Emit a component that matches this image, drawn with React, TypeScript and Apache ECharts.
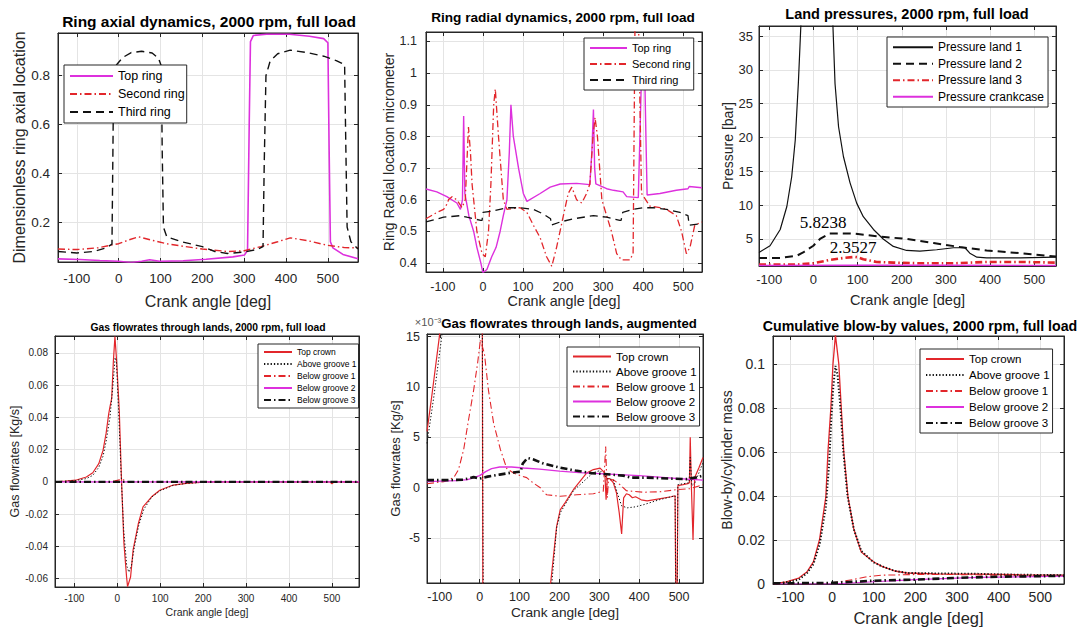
import React, { useEffect, useRef } from "react";
import * as echarts from "echarts";

const FONT = "'Liberation Sans', Arial, Helvetica, sans-serif";
const SERIF = "'Liberation Serif', 'Times New Roman', serif";
const AX = "#262626";
const GRIDC = "#e4e4e4";
const RED = "#e2262b";
const MAG = "#dd30dd";
const BLK = "#111111";
const DASH = [8, 5];
const DOT = [1.3, 2];
const DASHDOT = [7, 3, 1.5, 3];

// ---------- Panel 1: Ring axial dynamics ----------
const axialTopRing = [[-145,0.05],[-93,0.047],[-45,0.043],[0,0.04],[30,0.035],[55,0.04],[74,0.046],[98,0.04],[154,0.042],[209,0.048],[273,0.058],[301,0.066],[308,0.085],[312,0.6],[315,0.94],[322,0.965],[353,0.97],[408,0.97],[456,0.962],[490,0.952],[500,0.935],[503,0.5],[506,0.12],[512,0.095],[536,0.068],[572,0.05]];
const axialSecondRing = [[-145,0.09],[-100,0.088],[-50,0.095],[0,0.112],[25,0.128],[48,0.14],[80,0.126],[120,0.11],[200,0.09],[260,0.08],[300,0.083],[340,0.1],[380,0.12],[410,0.136],[450,0.125],[500,0.105],[540,0.096],[572,0.095]];
const axialThirdRing = [[-145,0.08],[-100,0.074],[-60,0.08],[-30,0.095],[-16,0.11],[-14,0.45],[-12,0.8],[-5,0.845],[10,0.875],[30,0.895],[55,0.9],[80,0.893],[95,0.872],[102,0.84],[104,0.5],[107,0.18],[115,0.14],[150,0.12],[200,0.1],[230,0.08],[260,0.072],[300,0.078],[330,0.088],[345,0.1],[348,0.45],[352,0.8],[362,0.86],[380,0.89],[410,0.905],[450,0.895],[490,0.88],[520,0.862],[540,0.845],[543,0.5],[546,0.18],[555,0.12],[572,0.09]];

// ---------- Panel 2: Ring radial dynamics ----------
const radialTopRing = [[-142,0.634],[-115,0.625],[-90,0.61],[-65,0.59],[-56,0.57],[-51,0.6],[-48,0.865],[-45,0.62],[-42,0.6],[-35,0.55],[-23,0.5],[-15,0.45],[-5,0.4],[0,0.37],[10,0.38],[22,0.42],[33,0.45],[43,0.5],[51,0.55],[60,0.6],[66,0.75],[70,0.9],[76,0.8],[89,0.7],[101,0.62],[110,0.595],[143,0.62],[168,0.64],[193,0.65],[234,0.652],[267,0.648],[272,0.75],[276,0.885],[279,0.7],[282,0.65],[309,0.635],[326,0.63],[350,0.625],[359,0.61],[388,0.607],[392,0.8],[396,1.0],[404,1.0],[407,0.8],[410,0.615],[442,0.62],[483,0.63],[512,0.635],[515,0.642],[547,0.638]];
const radialSecondRing = [[-142,0.54],[-115,0.56],[-98,0.57],[-88,0.59],[-86,0.6],[-77,0.61],[-65,0.6],[-52,0.575],[-44,0.6],[-36,0.83],[-31,0.75],[-27,0.65],[-15,0.5],[-2,0.43],[6,0.42],[14,0.5],[20,0.65],[27,0.9],[31,0.95],[39,0.8],[51,0.6],[60,0.57],[93,0.575],[110,0.56],[126,0.52],[143,0.48],[159,0.42],[172,0.39],[184,0.45],[201,0.55],[213,0.62],[222,0.64],[234,0.6],[247,0.59],[259,0.62],[267,0.65],[275,0.8],[280,0.86],[286,0.8],[297,0.6],[309,0.55],[321,0.5],[334,0.43],[346,0.41],[367,0.41],[375,0.43],[380,1.2],[388,1.2],[396,0.62],[417,0.58],[442,0.575],[458,0.57],[483,0.55],[496,0.5],[508,0.43],[517,0.45],[529,0.52],[547,0.53]];
const radialThirdRing = [[-142,0.53],[-98,0.545],[-56,0.55],[-40,0.545],[-23,0.54],[-5,0.535],[-2,0.535],[0,0.56],[27,0.565],[60,0.575],[93,0.575],[126,0.57],[151,0.555],[169,0.54],[171,0.52],[193,0.53],[226,0.54],[276,0.55],[309,0.545],[342,0.535],[345,0.535],[349,0.56],[375,0.57],[400,0.575],[425,0.575],[458,0.57],[492,0.56],[512,0.55],[515,0.52],[547,0.525]];

// ---------- Panel 3: Land pressures ----------
const pressLand1 = [[-123,3.0],[-98,4.0],[-75,6.4],[-60,9.8],[-49,14.2],[-41,19.6],[-34,28],[-26,40],[-15,55],[0,62],[20,58],[35,45],[44,37],[49,28],[57,21.6],[68,17.2],[83,13.3],[98,10.3],[113,8.3],[136,6.4],[158,5.0],[181,3.9],[211,3.3],[241,3.2],[279,3.4],[317,3.7],[343,3.7],[354,2.9],[370,2.3],[392,2.2],[468,2.2],[549,2.3]];
const pressLand2 = [[-123,2.2],[-75,2.2],[-38,2.5],[-23,3.0],[0,4.0],[15,5.0],[37,5.8],[60,5.82],[90,5.8],[143,5.4],[211,5.0],[272,4.4],[332,3.8],[392,3.3],[468,2.9],[549,2.4]];
const pressLand3 = [[-123,1.2],[-40,1.2],[0,1.4],[37,1.9],[70,2.2],[94,2.35],[100,2.3],[113,2.0],[143,1.6],[181,1.5],[241,1.4],[317,1.4],[392,1.6],[468,1.6],[549,1.5]];
const pressCrankcase = [[-123,1.08],[100,1.1],[300,1.1],[549,1.08]];
const pressNotes = [{ label: "5.8238", x: 823, y: 222 }, { label: "2.3527", x: 853, y: 247 }];

// ---------- Panel 4: Gas flowrates [kg/s] ----------
const flowTopCrown = [[-145,0],[-120,0.0004],[-97,0.001],[-72,0.003],[-57,0.0056],[-43,0.0113],[-33,0.0196],[-26,0.03],[-20,0.042],[-17,0.0465],[-13,0.0517],[-9,0.075],[-5.4,0.09],[-1.5,0.075],[4.7,0.044],[10,0],[15.5,-0.038],[21.7,-0.059],[24,-0.065],[31,-0.059],[37,-0.042],[49,-0.026],[60,-0.0155],[80,-0.0093],[99,-0.0052],[130,-0.002],[161,-0.001],[192,-0.0004],[208,0],[495,0],[500,-0.0012],[505,0],[563,0]];
const flowAboveG1 = [[-145,0],[-97,0.0008],[-72,0.002],[-57,0.004],[-43,0.009],[-33,0.016],[-26,0.025],[-17,0.04],[-10,0.06],[-5,0.077],[-2,0.075],[3,0.045],[9,0.005],[15,-0.03],[22,-0.052],[27,-0.056],[33,-0.052],[40,-0.04],[50,-0.027],[62,-0.017],[80,-0.0095],[100,-0.0055],[130,-0.0022],[160,-0.001],[200,-0.0003],[230,0],[563,0]];
const flowBelowG1 = [[-145,0],[-20,0],[-5,0.0006],[5,0.0012],[15,0.0012],[22,0.0002],[40,0],[495,0],[500,-0.0006],[505,0],[563,0]];
const flowBelowG2 = [[-145,0],[563,0]];
const flowBelowG3 = [[-145,0],[563,0]];

// ---------- Panel 5: Gas flowrates augmented [x1e-3 kg/s] ----------
const augTopCrown = [[-132,5.6],[-119,9.4],[-101,15],[-90,20],[-60,40],[-30,60],[-5,90],[6,30],[7.5,0],[9,-30],[20,-65],[60,-30],[120,-15],[160,-11],[178,-9.46],[193,-3.84],[202,-2.2],[214,-1.5],[235,-0.2],[268,1.45],[285,1.8],[302,1.95],[314,1.45],[317,-1.2],[320,0.9],[326,0.9],[335,0.5],[343,-0.5],[350,-2.5],[356,-4.6],[361,-1.0],[368,-0.6],[375,-0.7],[383,-1.0],[391,-0.9],[405,-1.2],[420,-1.3],[435,-1.2],[450,-1.1],[480,-0.9],[490,-0.8],[492,-12],[495,-12],[497,0.2],[510,0.3],[522,0.4],[526,0.5],[528,5.0],[531,0],[535,-5.2],[539,1.0],[550,2.0],[560,3.0]];
const augAboveG1 = [[-132,4.4],[-115,9],[-95,15],[-85,20],[-50,40],[-20,60],[-5,78],[6.5,20],[8,0],[10,-20],[25,-56],[100,-20],[181,-9.46],[193,-4],[202,-2.5],[235,-0.3],[285,1.5],[302,1.7],[314,1.2],[320,0.9],[335,0.8],[345,-0.5],[356,-1.8],[370,-2.0],[390,-1.9],[410,-1.7],[450,-1.2],[490,-0.8],[492,-12],[495,-12],[497,0.3],[525,0.5],[528,3.0],[532,0.2],[540,0.5],[560,2.5]];
const augBelowG1 = [[-132,0.4],[-90,0.6],[-65,1.0],[-53,1.8],[-40,3.8],[-28,6.7],[-15,9.7],[-5,12.4],[2,14.7],[12,13.3],[22,9.7],[35,6.4],[52,3.8],[68,1.9],[85,1.45],[102,1.2],[118,1.0],[135,0.45],[152,0],[160,-0.4],[168,-0.7],[202,-0.85],[243,-0.7],[285,-0.6],[310,-0.35],[316,4.1],[320,-1.0],[323,0.7],[335,0.8],[352,0.3],[368,-0.3],[410,-0.45],[452,-0.4],[493,-0.2],[527,-0.1],[535,0],[560,0.3]];
const augBelowG2 = [[-132,0.6],[-60,0.7],[-30,0.8],[0,1.2],[15,1.6],[30,1.9],[50,2.05],[80,2.05],[110,1.95],[150,1.85],[200,1.65],[250,1.5],[300,1.4],[350,1.3],[400,1.2],[450,1.05],[500,0.9],[540,0.8],[560,0.75]];
const augBelowG3 = [[-132,0.75],[-80,0.75],[-40,0.8],[-15,1.05],[0,0.9],[20,1.1],[50,1.3],[80,1.5],[103,1.6],[108,2.4],[120,2.95],[135,2.8],[160,2.4],[200,2.0],[240,1.7],[280,1.45],[330,1.3],[360,1.2],[380,1.0],[420,1.0],[480,0.9],[520,0.85],[540,1.0],[560,1.2]];

// ---------- Panel 6: Cumulative blow-by ----------
const cumTopCrown = [[-142,0],[-110,0.001],[-80,0.0027],[-60,0.0056],[-45,0.01],[-30,0.0204],[-15,0.0397],[-10,0.06],[-3,0.08],[2,0.0997],[8,0.113],[16,0.1],[22,0.08],[28,0.06],[38,0.0397],[52,0.025],[70,0.0145],[100,0.01],[120,0.008],[150,0.0059],[180,0.005],[250,0.0046],[350,0.0045],[450,0.0042],[557,0.004]];
const cumAboveG1 = [[-142,0],[-110,0.0008],[-80,0.002],[-60,0.005],[-45,0.009],[-30,0.018],[-15,0.035],[-7,0.055],[-2,0.075],[3,0.09],[8,0.099],[13,0.095],[20,0.08],[27,0.06],[37,0.04],[52,0.025],[70,0.015],[100,0.0098],[120,0.008],[150,0.006],[180,0.005],[250,0.0048],[350,0.0046],[450,0.0042],[557,0.004]];
const cumBelowG1 = [[-142,0],[-50,0],[0,0.0005],[50,0.002],[80,0.0032],[120,0.004],[200,0.0043],[300,0.0043],[400,0.004],[557,0.0038]];
const cumBelowG2 = [[-142,0],[0,0],[100,0.001],[200,0.002],[350,0.003],[557,0.0035]];
const cumBelowG3 = [[-142,0.0003],[0,0.0005],[50,0.001],[100,0.0015],[200,0.002],[300,0.0028],[400,0.0033],[557,0.0037]];

const ringNames = ["Top ring", "Second ring", "Third ring"];
const pressNames = ["Pressure land 1", "Pressure land 2", "Pressure land 3", "Pressure crankcase"];
const flowNames = ["Top crown", "Above groove 1", "Below groove 1", "Below groove 2", "Below groove 3"];
const titles = [
  "Ring axial dynamics, 2000 rpm, full load",
  "Ring radial dynamics, 2000 rpm, full load",
  "Land pressures, 2000 rpm, full load",
  "Gas flowrates through lands, 2000 rpm, full load",
  "Gas flowrates through lands, augmented",
  "Cumulative blow-by values, 2000 rpm, full load",
];
const yNames = [
  "Dimensionless ring axial location",
  "Ring Radial location micrometer",
  "Pressure [bar]",
  "Gas flowrates [Kg/s]",
  "Gas flowrates [Kg/s]",
  "Blow-by/cylinder mass",
];

// axis extents per panel: [xmin, xmax, ymin, ymax, ystep]
const ranges = [
  [-145, 572, 0.037, 0.975, 0.2],
  [-142, 547, 0.372, 1.13, 0.1],
  [-123, 549, 1.0, 36.5, 5],
  [-145, 563, -0.0652, 0.0904, 0.02],
  [-132, 560, -9.46, 15.26, 5],
  [-142, 557, 0, 0.1126, 0.02],
];

function ser(name: string, data: number[][], gi: number, color: string, width: number, type: any) {
  return {
    type: "line", name, data, xAxisIndex: gi, yAxisIndex: gi,
    symbol: "none", showSymbol: false, color,
    lineStyle: { color, width, type }, itemStyle: { color },
    clip: true, silent: true,
  };
}

function xAx(gi: number, fs: number, margin: number, nfs: number, gap: number) {
  const [min, max] = ranges[gi];
  return {
    type: "value", gridIndex: gi, min, max, minInterval: 100, maxInterval: 100, splitNumber: 7,
    name: "Crank angle [deg]", nameLocation: "middle", nameGap: gap,
    nameTextStyle: { fontSize: nfs, fontFamily: FONT, color: AX },
    axisLine: { show: true, onZero: false, lineStyle: { color: AX, width: 1 } },
    axisTick: { show: true, inside: true, length: 4, lineStyle: { color: AX } },
    axisLabel: { fontSize: fs, fontFamily: FONT, color: AX, margin, showMinLabel: false, showMaxLabel: false },
    splitLine: { show: true, lineStyle: { color: GRIDC, width: 1 } },
  };
}

function yAx(gi: number, fs: number, margin: number, nfs: number, gap: number, showMin = false) {
  const [, , min, max, step] = ranges[gi];
  return {
    type: "value", gridIndex: gi, min, max, minInterval: step, maxInterval: step, splitNumber: 6,
    name: yNames[gi], nameLocation: "middle", nameGap: gap, nameRotate: 90,
    nameTextStyle: { fontSize: nfs, fontFamily: FONT, color: AX },
    axisLine: { show: true, onZero: false, lineStyle: { color: AX, width: 1 } },
    axisTick: { show: true, inside: true, length: 4, lineStyle: { color: AX } },
    axisLabel: { fontSize: fs, fontFamily: FONT, color: AX, margin, showMinLabel: showMin, showMaxLabel: false },
    splitLine: { show: true, lineStyle: { color: GRIDC, width: 1 } },
  };
}

// mirror axes (top / right) carrying only inward ticks, like a boxed plot
function xMirror(gi: number) {
  const [min, max] = ranges[gi];
  return {
    type: "value", gridIndex: gi, position: "top", min, max, minInterval: 100, maxInterval: 100, splitNumber: 7,
    axisLine: { show: true, onZero: false, lineStyle: { color: AX, width: 1 } },
    axisTick: { show: true, inside: true, length: 4, lineStyle: { color: AX } },
    axisLabel: { show: false }, splitLine: { show: false },
  };
}
function yMirror(gi: number) {
  const [, , min, max, step] = ranges[gi];
  return {
    type: "value", gridIndex: gi, position: "right", min, max, minInterval: step, maxInterval: step, splitNumber: 6,
    axisLine: { show: true, onZero: false, lineStyle: { color: AX, width: 1 } },
    axisTick: { show: true, inside: true, length: 4, lineStyle: { color: AX } },
    axisLabel: { show: false }, splitLine: { show: false },
  };
}

function leg(names: string[], left: number, top: number, fs: number, itemW: number, row: number, padR = 4) {
  return {
    data: names, orient: "vertical", left, top, itemWidth: itemW, itemHeight: row, itemGap: 0,
    padding: [2, padR, 2, 5], borderColor: AX, borderWidth: 1, backgroundColor: "#ffffff",
    textStyle: { fontSize: fs, fontFamily: FONT, color: "#000", lineHeight: row },
    itemStyle: { opacity: 0 }, selectedMode: false, z: 10,
  };
}

function txt(text: string, x: number, y: number, font: string, fill = "#000") {
  return { type: "text", x, y, z: 100, style: { text, font, fill, textAlign: "center", textVerticalAlign: "middle" } };
}

export default function App() {
  const ref = useRef<HTMLDivElement>(null);
  useEffect(() => {
    if (!ref.current) return;
    const chart = echarts.init(ref.current, null, { renderer: "svg" });
    const grids = [
      { left: 58, top: 33, width: 300, height: 229 },
      { left: 426, top: 32, width: 276, height: 240 },
      { left: 759, top: 26, width: 297, height: 240 },
      { left: 55, top: 336, width: 304, height: 251 },
      { left: 427, top: 334, width: 276, height: 249 },
      { left: 773, top: 336, width: 291, height: 253 },
    ].map((g) => ({ ...g, show: true, borderColor: AX, borderWidth: 1, backgroundColor: "#fff", containLabel: false }));

    const option: any = {
      animation: false,
      backgroundColor: "#ffffff",
      grid: grids,
      xAxis: [
        xAx(0, 13.5, 9, 16, 31),
        xAx(1, 12.5, 8, 14.3, 22),
        xAx(2, 13, 7, 14.6, 26),
        xAx(3, 10, 6, 10.5, 19),
        xAx(4, 12.5, 7, 13.7, 22),
        xAx(5, 14, 6, 16.5, 25),
        ...[0, 1, 2, 3, 4, 5].map(xMirror),
      ],
      yAxis: [
        yAx(0, 13.5, 8, 16, 30),
        yAx(1, 12.5, 9, 14, 27),
        yAx(2, 13, 6, 14, 24),
        yAx(3, 10, 7, 12.5, 29),
        yAx(4, 12.5, 7, 13, 24),
        yAx(5, 14, 8, 14, 36, true),
        ...[0, 1, 2, 3, 4, 5].map(yMirror),
      ],
      legend: [
        leg(ringNames, 64, 65, 12.5, 43, 18, 2),
        leg(ringNames, 584, 38, 11, 37, 16, 3),
        leg(pressNames, 887, 37, 12, 40, 16.5, 4),
        leg(flowNames, 258, 344, 8.5, 28, 12, 2),
        leg(flowNames, 567, 347, 11.5, 38, 15, 3),
        leg(flowNames, 920, 349, 11.5, 38, 16, 3),
      ],
      series: [
        ser("Top ring", axialTopRing, 0, MAG, 1.6, "solid"),
        ser("Second ring", axialSecondRing, 0, RED, 1.4, DASHDOT),
        ser("Third ring", axialThirdRing, 0, BLK, 1.4, DASH),

        ser("Top ring", radialTopRing, 1, MAG, 1.4, "solid"),
        ser("Second ring", radialSecondRing, 1, RED, 1.3, DASHDOT),
        ser("Third ring", radialThirdRing, 1, BLK, 1.3, DASH),

        ser("Pressure land 1", pressLand1, 2, BLK, 1.2, "solid"),
        ser("Pressure land 2", pressLand2, 2, BLK, 2, DASH),
        ser("Pressure land 3", pressLand3, 2, RED, 2.6, DASHDOT),
        ser("Pressure crankcase", pressCrankcase, 2, MAG, 1.4, "solid"),

        ser("Top crown", flowTopCrown, 3, RED, 1.2, "solid"),
        ser("Above groove 1", flowAboveG1, 3, BLK, 1, DOT),
        ser("Below groove 1", flowBelowG1, 3, RED, 1.1, DASHDOT),
        ser("Below groove 2", flowBelowG2, 3, MAG, 1.1, "solid"),
        ser("Below groove 3", flowBelowG3, 3, BLK, 2.4, DASHDOT),

        ser("Top crown", augTopCrown, 4, RED, 1.2, "solid"),
        ser("Above groove 1", augAboveG1, 4, BLK, 1, DOT),
        ser("Below groove 1", augBelowG1, 4, RED, 1.1, DASHDOT),
        ser("Below groove 2", augBelowG2, 4, MAG, 1.4, "solid"),
        ser("Below groove 3", augBelowG3, 4, BLK, 2.6, DASHDOT),

        ser("Top crown", cumTopCrown, 5, RED, 1.3, "solid"),
        ser("Above groove 1", cumAboveG1, 5, BLK, 2, DOT),
        ser("Below groove 1", cumBelowG1, 5, RED, 1.1, DASHDOT),
        ser("Below groove 2", cumBelowG2, 5, MAG, 1.1, "solid"),
        ser("Below groove 3", cumBelowG3, 5, BLK, 2.6, DASHDOT),
      ],
      graphic: {
        elements: [
          txt("\u00d710\u207b\u00b3", 428, 322, `11px ${FONT}`, "#555"),
          txt(titles[0], 209, 21, `bold 15.5px ${FONT}`),
          txt(titles[1], 563, 17, `bold 13.6px ${FONT}`),
          txt(titles[2], 907, 14, `bold 14.5px ${FONT}`),
          txt(titles[3], 208, 327, `bold 10.3px ${FONT}`),
          txt(titles[4], 569, 323, `bold 13.2px ${FONT}`),
          txt(titles[5], 920, 326, `bold 14.2px ${FONT}`),
          ...pressNotes.map((n) => txt(n.label, n.x, n.y, `17px ${SERIF}`)),
        ],
      },
    };
    chart.setOption(option);
    return () => chart.dispose();
  }, []);
  return <div ref={ref} style={{ position: "absolute", left: 0, top: 0, width: 1081, height: 627 }} />;
}
